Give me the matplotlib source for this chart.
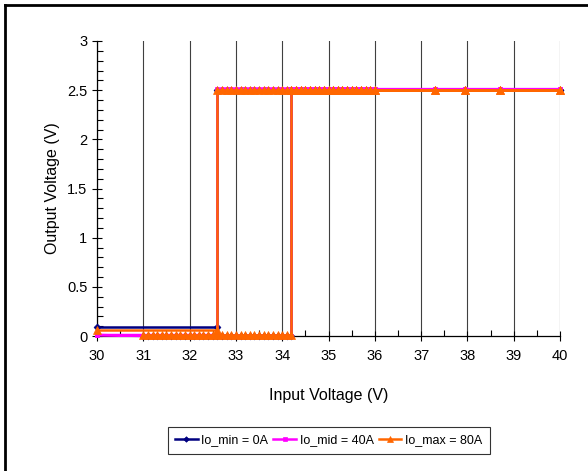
import numpy as np
import matplotlib
matplotlib.use("Agg")
import matplotlib.pyplot as plt
from matplotlib.lines import Line2D
from matplotlib.ticker import MultipleLocator

plt.rcParams['font.family'] = ['Liberation Sans', 'DejaVu Sans']

# Data (input sweep up, then back down)
x_start = [30.0]
x_rise_off = [31.0, 31.1, 31.2, 31.3, 31.4, 31.5, 31.6, 31.7, 31.8, 31.9,
              32.0, 32.1, 32.2, 32.3, 32.4, 32.5, 32.6, 32.7, 32.8, 32.9,
              33.0, 33.1, 33.2, 33.3, 33.4, 33.5, 33.6, 33.7, 33.8, 33.9,
              34.0, 34.1, 34.2]
x_rise_on = [34.2, 34.3, 34.4, 34.5, 34.6, 34.7, 34.8, 34.9, 35.0, 35.1,
             35.2, 35.3, 35.4, 35.5, 35.6, 35.7, 35.8, 35.9, 36.0,
             37.3, 37.95, 38.7, 40.0]
x_fall_on = [40.0, 38.7, 37.95, 37.3, 36.0, 35.9, 35.8, 35.7, 35.6, 35.5,
             35.4, 35.3, 35.2, 35.1, 35.0, 34.9, 34.8, 34.7, 34.6, 34.5,
             34.4, 34.3, 34.2, 34.1, 34.0, 33.9, 33.8, 33.7, 33.6, 33.5,
             33.4, 33.3, 33.2, 33.1, 33.0, 32.9, 32.8, 32.7, 32.6]
x_fall_off = [32.6, 30.0]

labels = ["Io_min = 0A", "Io_mid = 40A", "Io_max = 80A"]
colors = ["#000080", "#FF00FF", "#FF6600"]
markers = ["D", "s", "^"]
msizes = [3.5, 3.4, 5.5]
start_level = [None, 0.01, None]     # value at 30 V before sweep
rise_off_level = [0.0, 0.0, 0.01]    # output while off on upward sweep
on_level = [2.5, 2.51, 2.5]
fall_off_level = [0.09, 0.01, 0.065] # output after turn-off on downward sweep

fig = plt.figure(figsize=(5.88, 4.71), dpi=100)
ax = fig.add_axes([97/588, 1 - 336/471, (560 - 97)/588, (336 - 41)/471])

for i in range(3):
    xs, ys = [], []
    if start_level[i] is not None:
        xs += x_start
        ys += [start_level[i]]
    xs += x_rise_off + x_rise_on + x_fall_on + x_fall_off
    ys += list(np.full(len(x_rise_off), rise_off_level[i]))
    ys += list(np.full(len(x_rise_on) + len(x_fall_on), on_level[i]))
    ys += list(np.full(len(x_fall_off), fall_off_level[i]))
    ax.plot(xs, ys, color=colors[i], lw=1.8, marker=markers[i],
            markersize=msizes[i], markeredgewidth=0.5, label=labels[i],
            clip_on=False, zorder=3)

ax.set_xlim(30, 40)
ax.set_ylim(0, 3)
ax.xaxis.set_major_locator(MultipleLocator(1))
ax.xaxis.set_minor_locator(MultipleLocator(0.5))
ax.yaxis.set_major_locator(MultipleLocator(0.5))
ax.yaxis.set_minor_locator(MultipleLocator(0.1))
ax.yaxis.set_major_formatter(matplotlib.ticker.FuncFormatter(lambda v, p: f"{v:g}"))
ax.tick_params(which='major', direction='inout', length=7, width=0.8, labelsize=10.5)
ax.tick_params(which='minor', direction='in', length=4, width=0.8)
ax.tick_params(axis='x', pad=6)
ax.grid(axis='x', which='major', color='#404040', lw=0.8)
for s in ['top', 'right']:
    ax.spines[s].set_visible(False)
for s in ['left', 'bottom']:
    ax.spines[s].set_linewidth(0.9)

ax.set_xlabel("Input Voltage (V)", fontsize=11.5, labelpad=18)
ax.set_ylabel("Output Voltage (V)", fontsize=11.5, labelpad=5)

leg = fig.legend(loc='center', bbox_to_anchor=(328.5/588, 1 - 440.5/471), ncol=3,
                 fontsize=9, frameon=True, fancybox=False, edgecolor='black',
                 handlelength=1.8, columnspacing=0.4, handletextpad=0.3,
                 borderpad=0.6, borderaxespad=0, markerscale=0.8)
leg.get_frame().set_linewidth(0.8)

# outer chart border (only left and top are inside the image)
fig.add_artist(Line2D([4.5/588, 4.5/588], [0, 1 - 4.5/471], transform=fig.transFigure,
                      color='black', lw=2))
fig.add_artist(Line2D([4.5/588, 1], [1 - 4.5/471, 1 - 4.5/471], transform=fig.transFigure,
                      color='black', lw=2))

fig.savefig("out.png", dpi=100)
